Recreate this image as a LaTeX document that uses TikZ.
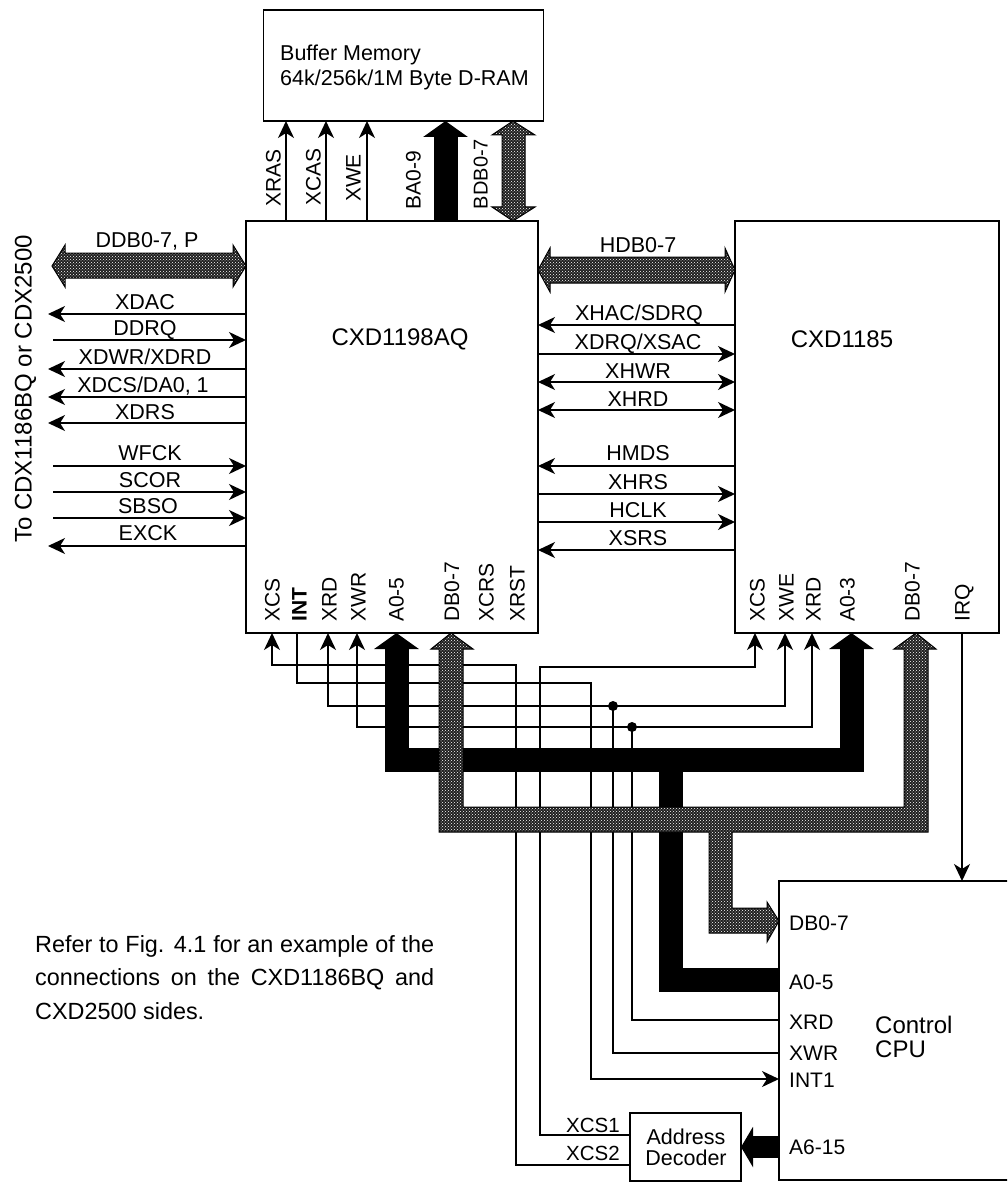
\documentclass[tikz,border=0pt]{standalone}
\usepackage{fontspec}
\setmainfont{Liberation Sans}
\usetikzlibrary{arrows.meta, patterns, calc}

\tikzset{
    chipbox/.style={draw, line width=1.8pt, outer sep=0pt, inner sep=0pt},
    lbl/.style={font=\fontsize{21.5}{25}\selectfont, inner sep=0pt, text height=15pt, text depth=0pt},
    pinlbl/.style={lbl, font=\fontsize{21}{25}\selectfont},
    vlbl/.style={pinlbl, rotate=90, anchor=west},
    biglbl/.style={lbl, font=\fontsize{24}{28}\selectfont},
    wire/.style={line width=1.5pt, >={Stealth[length=17pt,width=16pt,inset=5pt]}},
    junction/.style={circle, fill=black, inner sep=0pt, minimum size=10pt},
    blackbus/.style={line width=24pt, -{Triangle[length=16pt,width=44pt]}},
    hatchbus/.style={preaction={fill=black!88}, pattern=crosshatch dots, pattern color=white, draw=black, line width=1pt}
}

\begin{document}
\begin{tikzpicture}[x=1pt, y=-1pt]
    \useasboundingbox (0,0) rectangle (1007,1182);
    \clip (0,0) rectangle (1007,1182);

    % Draw the blocks
    \node[chipbox, minimum width=280pt, minimum height=111pt] (dram) at (403.5,65.5) {};
    \node[chipbox, minimum width=292pt, minimum height=412pt] (cxdA) at (392,427) {};
    \node[chipbox, minimum width=264pt, minimum height=412pt] (cxdB) at (867,427) {};
    \node[chipbox, minimum width=240pt, minimum height=299pt] (cpu) at (899,1030.5) {};
    \node[chipbox, minimum width=111pt, minimum height=68pt] (dec) at (685.5,1147) {};

    % Block titles
    \node[lbl, anchor=west] (dramA) at (280,53) {Buffer Memory};
    \node[lbl, anchor=west] (dramB) at (280,78) {64k/256k/1M Byte D-RAM};
    \node[biglbl] (titleA) at (400,338) {CXD1198AQ};
    \node[biglbl] (titleB) at (842,340) {CXD1185};
    \node[biglbl, anchor=west] (ctlA) at (875,1026) {Control};
    \node[biglbl, anchor=west] (ctlB) at (875,1050) {CPU};
    \node[lbl] (decA) at (686,1137) {Address};
    \node[lbl] (decB) at (686,1158) {Decoder};

    % Free ends on the left side
    \coordinate (leftOut) at (48,0);
    \coordinate (leftIn) at (53,0);

    % Signals to the buffer memory
    \draw[wire,->] (cxdA.north -| 286,0) -- (dram.south -| 286,0);
    \draw[wire,->] (cxdA.north -| 326,0) -- (dram.south -| 326,0);
    \draw[wire,->] (cxdA.north -| 367,0) -- (dram.south -| 367,0);
    \draw[blackbus] (cxdA.north -| 445.5,0) -- (dram.south -| 445.5,0);
    \node[vlbl, anchor=center] (xras) at (273,178) {XRAS};
    \node[vlbl, anchor=center] (xcas) at (313,177) {XCAS};
    \node[vlbl, anchor=center] (xwe) at (353,178) {XWE};
    \node[vlbl, anchor=center] (ba) at (413,180) {BA0-9};
    \node[vlbl, anchor=center, font=\fontsize{20}{24}\selectfont] (bdb) at (480,174) {BDB0-7};

    % Left side signals
    \draw[wire,->] (cxdA.west |- 0,314) -- (leftOut |- 0,314);
    \draw[wire,<-] (cxdA.west |- 0,340) -- (leftIn |- 0,340);
    \draw[wire,->] (cxdA.west |- 0,369) -- (leftOut |- 0,369);
    \draw[wire,->] (cxdA.west |- 0,397) -- (leftOut |- 0,397);
    \draw[wire,->] (cxdA.west |- 0,423) -- (leftOut |- 0,423);
    \draw[wire,<-] (cxdA.west |- 0,466) -- (leftIn |- 0,466);
    \draw[wire,<-] (cxdA.west |- 0,492) -- (leftIn |- 0,492);
    \draw[wire,<-] (cxdA.west |- 0,518) -- (leftIn |- 0,518);
    \draw[wire,->] (cxdA.west |- 0,546) -- (leftOut |- 0,546);
    \node[lbl] (ddb) at (147,240) {DDB0-7, P};
    \node[lbl] (xdac) at (145,302) {XDAC};
    \node[lbl] (ddrq) at (145,328) {DDRQ};
    \node[lbl] (xdwr) at (145,357) {XDWR/XDRD};
    \node[lbl] (xdcs) at (143,385) {XDCS/DA0, 1};
    \node[lbl] (xdrs) at (145,412) {XDRS};
    \node[lbl] (wfck) at (150,453) {WFCK};
    \node[lbl] (scor) at (150,480) {SCOR};
    \node[lbl] (sbso) at (148,506) {SBSO};
    \node[lbl] (exck) at (148,533) {EXCK};
    \node[biglbl, rotate=90] (side) at (24,389) {To CDX1186BQ or CDX2500};

    % Signals between the two chips
    \draw[wire,->] (cxdB.west |- 0,325) -- (cxdA.east |- 0,325);
    \draw[wire,->] (cxdA.east |- 0,354) -- (cxdB.west |- 0,354);
    \draw[wire,<->] (cxdA.east |- 0,382) -- (cxdB.west |- 0,382);
    \draw[wire,<->] (cxdA.east |- 0,410) -- (cxdB.west |- 0,410);
    \draw[wire,->] (cxdB.west |- 0,466) -- (cxdA.east |- 0,466);
    \draw[wire,->] (cxdA.east |- 0,494) -- (cxdB.west |- 0,494);
    \draw[wire,->] (cxdA.east |- 0,522) -- (cxdB.west |- 0,522);
    \draw[wire,->] (cxdB.west |- 0,550) -- (cxdA.east |- 0,550);
    \node[lbl] (hdb) at (638,245) {HDB0-7};
    \node[lbl] (xhac) at (639,313) {XHAC/SDRQ};
    \node[lbl] (xdrq) at (638,342) {XDRQ/XSAC};
    \node[lbl] (xhwr) at (638,371) {XHWR};
    \node[lbl] (xhrd) at (638,399) {XHRD};
    \node[lbl] (hmds) at (638,453) {HMDS};
    \node[lbl] (xhrs) at (638,482) {XHRS};
    \node[lbl] (hclk) at (638,510) {HCLK};
    \node[lbl] (xsrs) at (638,538) {XSRS};

    % Pin names under the chips
    \node[vlbl] (pinA) at (272,622) {XCS};
    \node[vlbl, font=\bfseries\fontsize{21}{25}\selectfont] (pinB) at (299,622) {INT};
    \node[vlbl] (pinC) at (329,622) {XRD};
    \node[vlbl] (pinD) at (358,622) {XWR};
    \node[vlbl] (pinE) at (396,622) {A0-5};
    \node[vlbl] (pinF) at (451.5,622) {DB0-7};
    \node[vlbl] (pinG) at (486,622) {XCRS};
    \node[vlbl] (pinH) at (517,622) {XRST};
    \node[vlbl] (pinJ) at (757,622) {XCS};
    \node[vlbl] (pinK) at (786,622) {XWE};
    \node[vlbl] (pinL) at (813,622) {XRD};
    \node[vlbl] (pinM) at (847,622) {A0-3};
    \node[vlbl] (pinN) at (912,622) {DB0-7};
    \node[vlbl] (pinP) at (962,622) {IRQ};

    % Pin names of the CPU
    \node[pinlbl, anchor=west] (cpuA) at (789,923) {DB0-7};
    \node[pinlbl, anchor=west] (cpuB) at (789,982) {A0-5};
    \node[pinlbl, anchor=west] (cpuC) at (789,1022) {XRD};
    \node[pinlbl, anchor=west] (cpuD) at (789,1053) {XWR};
    \node[pinlbl, anchor=west] (cpuE) at (789,1080) {INT1};
    \node[pinlbl, anchor=west] (cpuF) at (789,1147) {A6-15};
    \node[pinlbl, font=\fontsize{20.5}{24}\selectfont] (xcsA) at (593,1125) {XCS1};
    \node[pinlbl, font=\fontsize{20.5}{24}\selectfont] (xcsB) at (593,1153) {XCS2};

    % Junctions
    \node[junction] (jA) at (613,706) {};
    \node[junction] (jB) at (632,727) {};

    % Control wires
    \draw[wire,<-] (cxdA.south -| 272,0) |- (516,665) |- (dec.west |- 0,1165);
    \draw[wire,->] (cxdA.south -| 297,0) -- (297,683) -| (591,1079) -- (cpu.west |- 0,1079);
    \draw[wire,<->] (cxdA.south -| 328,0) |- (jA.center) -| (cxdB.south -| 785,0);
    \draw[wire,<->] (cxdA.south -| 357,0) |- (jB.center) -| (cxdB.south -| 812,0);
    \draw[wire] (jA.center) |- (cpu.west |- 0,1053);
    \draw[wire] (jB.center) |- (cpu.west |- 0,1020);
    \draw[wire,->] (dec.west |- 0,1135) -| (540,667) -| (cxdB.south -| 755,0);
    \draw[wire,->] (cxdB.south -| 962,0) -- (cpu.north -| 962,0);

    % Address bus
    \draw[blackbus] (851.5,760) -- (396.5,760) -- (cxdA.south -| 396.5,0);
    \draw[blackbus] (396.5,760) -- (851.5,760) -- (cxdB.south -| 851.5,0);
    \draw[line width=24pt] (671,760) |- (cpu.west |- 0,980);
    \draw[line width=22pt, {Triangle[length=12pt,width=40pt]}-] (dec.east |- 0,1147) -- (cpu.west |- 0,1147);

    % Data buses
    \fill[hatchbus] (cxdA.west |- 0,266) -- (233,245) -- (233,253) -- (65,253) -- (65,245) -- (52,266)
        -- (65,287) -- (65,278) -- (233,278) -- (233,287) -- cycle;
    \fill[hatchbus] (cxdB.west |- 0,270) -- (725,248) -- (725,257) -- (550,257) -- (550,248) -- (cxdA.east |- 0,270)
        -- (550,292) -- (550,283) -- (725,283) -- (725,292) -- cycle;
    \fill[hatchbus] (dram.south -| 513,0) -- (535,135) -- (525,135) -- (525,207) -- (535,207) -- (cxdA.north -| 513,0)
        -- (492,207) -- (502,207) -- (502,135) -- (492,135) -- cycle;
    \fill[hatchbus] (cxdA.south -| 451,0) -- (473,649) -- (463,649) -- (463,807) -- (904,807) -- (904,649) -- (894,649)
        -- (cxdB.south -| 916,0) -- (936,649) -- (928,649) -- (928,832) -- (732,832) -- (732,908) -- (767,908) -- (767,902)
        -- (cpu.west |- 0,921) -- (767,942) -- (767,933) -- (709,933) -- (709,832) -- (439,832) -- (439,649) -- (431,649) -- cycle;

    % Note
    \node[anchor=north west, align=left, inner sep=0pt, font=\fontsize{23.4}{33.5}\selectfont] (note) at (35,935)
        {\makebox[399pt][s]{Refer to Fig. 4.1 for an example of the}\\\makebox[399pt][s]{connections on the CXD1186BQ and}\\CXD2500 sides.};

\end{tikzpicture}
\end{document}
